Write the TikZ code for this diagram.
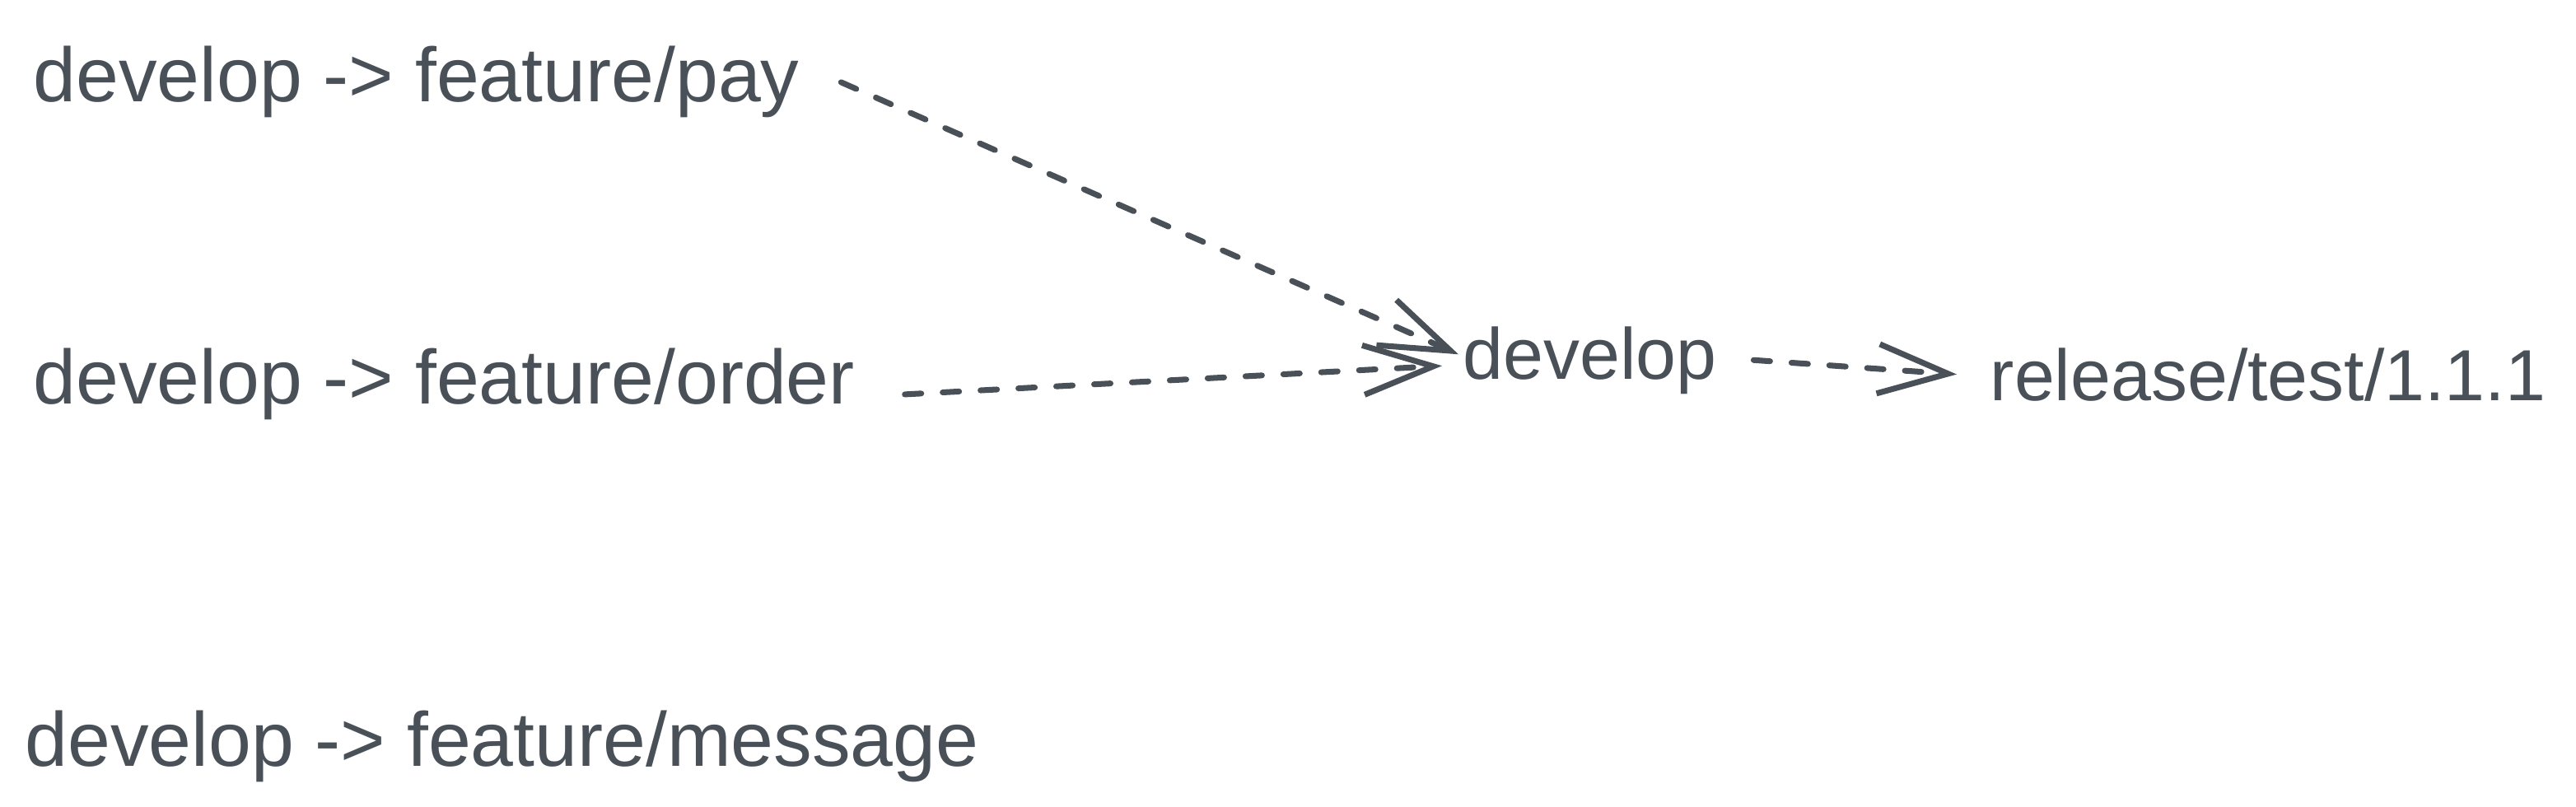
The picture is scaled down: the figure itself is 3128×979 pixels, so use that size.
\documentclass[tikz,border=0pt]{standalone}
\usepackage{fontspec}
\setmainfont{Liberation Sans}
\usetikzlibrary{arrows.meta}
\definecolor{inkgray}{RGB}{73,80,87}

\begin{document}
\begin{tikzpicture}[x=0.01cm, y=-0.01cm, >={Straight Barb[length=0.85cm,width=0.6cm]},
  lbl/.style={anchor=base west, inner sep=0pt, text=inkgray, font=\fontsize{26.5}{32}\selectfont},
  lblsmall/.style={lbl, font=\fontsize{25}{30}\selectfont},
  flow/.style={->, draw=inkgray, line width=2pt, line cap=round, dash pattern=on 0.2cm off 0.26cm}]
  \useasboundingbox (0,0) rectangle (3128,979);
  % feature branches
  \node[lbl] (pay) at (40,124) {develop -> feature/pay};
  \node[lbl] (ord) at (40,490) {develop -> feature/order};
  \node[lbl] (msg) at (30,930) {develop -> feature/message};
  % merge target and release
  \node[lblsmall] (dev) at (1776,460) {develop};
  \node[lblsmall] (rel) at (2416,486) {release/test/1.1.1};
  % merge arrows
  \draw[flow] ([xshift=0.5cm]pay.east) -- ([shift={(-0.05cm,0.07cm)}]dev.west);
  \draw[flow] ([shift={(0.6cm,-0.13cm)}]ord.east) -- ([shift={(-0.25cm,-0.07cm)}]dev.west);
  \draw[flow] ([xshift=0.44cm]dev.east) -- ([xshift=-0.4cm]rel.west);
\end{tikzpicture}
\end{document}
